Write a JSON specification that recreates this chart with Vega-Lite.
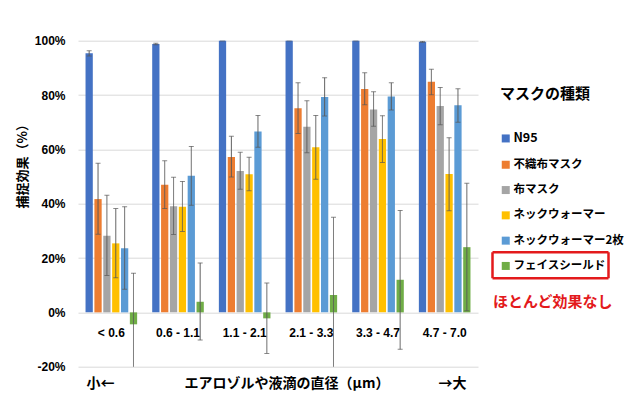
{
  "$schema": "https://vega.github.io/schema/vega-lite/v6.json",
  "width": 400,
  "height": 326,
  "autosize": {"type": "none"},
  "padding": {"left": 78, "top": 40.7, "right": 154, "bottom": 34.3},
  "background": "white",
  "config": {"view": {"stroke": null}, "font": "Noto Sans CJK JP"},
  "data": {
    "values": [
      {"g": "< 0.6", "m": "N95", "v": 95.4, "lo": 94.4, "hi": 96.3},
      {"g": "< 0.6", "m": "不織布マスク", "v": 41.7, "lo": 28.8, "hi": 54.9},
      {"g": "< 0.6", "m": "布マスク", "v": 28.2, "lo": 13.6, "hi": 43.1},
      {"g": "< 0.6", "m": "ネックウォーマー", "v": 25.4, "lo": 12.7, "hi": 38.2},
      {"g": "< 0.6", "m": "ネックウォーマー2枚", "v": 23.6, "lo": 8.5, "hi": 38.9},
      {"g": "< 0.6", "m": "フェイスシールド", "v": -4.4, "lo": -23.2, "hi": 14.4},
      {"g": "0.6 - 1.1", "m": "N95", "v": 98.8, "lo": 98.5, "hi": 99.1},
      {"g": "0.6 - 1.1", "m": "不織布マスク", "v": 47.0, "lo": 38.2, "hi": 55.8},
      {"g": "0.6 - 1.1", "m": "布マスク", "v": 39.1, "lo": 28.7, "hi": 49.7},
      {"g": "0.6 - 1.1", "m": "ネックウォーマー", "v": 38.9, "lo": 29.8, "hi": 48.2},
      {"g": "0.6 - 1.1", "m": "ネックウォーマー2枚", "v": 50.3, "lo": 39.4, "hi": 61.1},
      {"g": "0.6 - 1.1", "m": "フェイスシールド", "v": 3.9, "lo": -10.2, "hi": 18.2},
      {"g": "1.1 - 2.1", "m": "N95", "v": 100, "lo": 100, "hi": 100},
      {"g": "1.1 - 2.1", "m": "不織布マスク", "v": 57.2, "lo": 49.8, "hi": 64.8},
      {"g": "1.1 - 2.1", "m": "布マスク", "v": 52.0, "lo": 45.3, "hi": 58.9},
      {"g": "1.1 - 2.1", "m": "ネックウォーマー", "v": 50.8, "lo": 44.8, "hi": 57.1},
      {"g": "1.1 - 2.1", "m": "ネックウォーマー2枚", "v": 66.6, "lo": 60.8, "hi": 72.5},
      {"g": "1.1 - 2.1", "m": "フェイスシールド", "v": -2.2, "lo": -15.1, "hi": 10.8},
      {"g": "2.1 - 3.3", "m": "N95", "v": 100, "lo": 100, "hi": 100},
      {"g": "2.1 - 3.3", "m": "不織布マスク", "v": 75.1, "lo": 65.8, "hi": 84.5},
      {"g": "2.1 - 3.3", "m": "布マスク", "v": 68.3, "lo": 58.8, "hi": 77.9},
      {"g": "2.1 - 3.3", "m": "ネックウォーマー", "v": 60.8, "lo": 49.0, "hi": 72.5},
      {"g": "2.1 - 3.3", "m": "ネックウォーマー2枚", "v": 79.3, "lo": 72.3, "hi": 86.4},
      {"g": "2.1 - 3.3", "m": "フェイスシールド", "v": 6.4, "lo": -22.2, "hi": 35.0},
      {"g": "3.3 - 4.7", "m": "N95", "v": 100, "lo": 100, "hi": 100},
      {"g": "3.3 - 4.7", "m": "不織布マスク", "v": 82.2, "lo": 76.4, "hi": 88.2},
      {"g": "3.3 - 4.7", "m": "布マスク", "v": 74.7, "lo": 68.5, "hi": 81.2},
      {"g": "3.3 - 4.7", "m": "ネックウォーマー", "v": 63.8, "lo": 55.2, "hi": 72.4},
      {"g": "3.3 - 4.7", "m": "ネックウォーマー2枚", "v": 79.5, "lo": 74.5, "hi": 84.5},
      {"g": "3.3 - 4.7", "m": "フェイスシールド", "v": 12.0, "lo": -13.6, "hi": 37.5},
      {"g": "4.7 - 7.0", "m": "N95", "v": 99.6, "lo": 99.4, "hi": 99.8},
      {"g": "4.7 - 7.0", "m": "不織布マスク", "v": 84.9, "lo": 80.1, "hi": 89.5},
      {"g": "4.7 - 7.0", "m": "布マスク", "v": 76.0, "lo": 69.1, "hi": 82.8},
      {"g": "4.7 - 7.0", "m": "ネックウォーマー", "v": 50.9, "lo": 37.4, "hi": 64.3},
      {"g": "4.7 - 7.0", "m": "ネックウォーマー2枚", "v": 76.2, "lo": 70.0, "hi": 82.3},
      {"g": "4.7 - 7.0", "m": "フェイスシールド", "v": 24.0, "lo": 0.6, "hi": 47.5}
    ]
  },
  "encoding": {
    "x": {
      "field": "g",
      "type": "nominal",
      "sort": ["< 0.6", "0.6 - 1.1", "1.1 - 2.1", "2.1 - 3.3", "3.3 - 4.7", "4.7 - 7.0"],
      "scale": {"paddingInner": 0.226, "paddingOuter": 0.113},
      "axis": {
        "title": "小←　　　　　エアロゾルや液滴の直径（μm）　　　　→大",
        "offset": -54.33,
        "domain": false,
        "ticks": false,
        "grid": false,
        "labelAngle": 0,
        "labelPadding": 15,
        "labelFont": "Liberation Sans",
        "labelFontSize": 12,
        "labelFontWeight": "bold",
        "labelColor": "#000000",
        "titleFontSize": 14,
        "titleFontWeight": "bold",
        "titleColor": "#000000",
        "titleX": 198,
        "titleY": 71,
        "titleBaseline": "middle"
      }
    },
    "xOffset": {
      "field": "m",
      "type": "nominal",
      "sort": ["N95", "不織布マスク", "布マスク", "ネックウォーマー", "ネックウォーマー2枚", "フェイスシールド"],
      "scale": {"paddingInner": 0.18, "paddingOuter": 0}
    }
  },
  "layer": [
    {
      "mark": {"type": "bar"},
      "encoding": {
        "y": {
          "field": "v",
          "type": "quantitative",
          "title": "捕捉効果（%）",
          "scale": {"domain": [-20, 100], "nice": false},
          "axis": {
            "values": [-20, 0, 20, 40, 60, 80, 100],
            "labelExpr": "datum.value + '%'",
            "grid": true,
            "gridColor": "#D9D9D9",
            "domain": false,
            "ticks": false,
            "labelPadding": 13,
            "labelFont": "Liberation Sans",
            "labelFontSize": 12,
            "labelFontWeight": "bold",
            "labelColor": "#000000",
            "titleFontSize": 13,
            "titleFontWeight": "bold",
            "titleColor": "#000000",
            "titleX": -56,
            "titleY": 122,
            "titleAngle": -90,
            "titleAlign": "center",
            "titleBaseline": "middle"
          }
        },
        "color": {
          "field": "m",
          "type": "nominal",
          "scale": {
            "domain": ["N95", "不織布マスク", "布マスク", "ネックウォーマー", "ネックウォーマー2枚", "フェイスシールド"],
            "range": ["#4472C4", "#ED7D31", "#A5A5A5", "#FFC000", "#5B9BD5", "#70AD47"]
          },
          "legend": {
            "orient": "none",
            "legendX": 422,
            "legendY": 46,
            "direction": "vertical",
            "columns": 1,
            "padding": 0,
            "title": "マスクの種類",
            "titleFontSize": 15,
            "titleFontWeight": "bold",
            "titleColor": "#000000",
            "titlePadding": 31,
            "symbolType": "square",
            "symbolSize": 64,
            "symbolStrokeWidth": 0,
            "labelFontSize": 11.5,
            "labelFontWeight": "bold",
            "labelColor": "#000000",
            "labelOffset": 2,
            "labelLimit": 250,
            "rowPadding": 12.3,
            "encode": {
              "labels": {
                "update": {
                  "fontSize": {"signal": "datum.value === 'N95' ? 12.5 : 11.5"}
                }
              }
            }
          }
        }
      }
    },
    {
      "mark": {"type": "rule", "clip": true, "color": "#595959", "strokeWidth": 1},
      "encoding": {
        "y": {"field": "lo", "type": "quantitative", "title": "捕捉効果（%）", "scale": {"domain": [-20, 100], "nice": false}},
        "y2": {"field": "hi"},
        "strokeDash": {
          "datum": "ほとんど効果なし",
          "legend": {
            "orient": "none",
            "legendX": 415,
            "legendY": 219,
            "padding": 0,
            "title": "ほとんど効果なし",
            "titleOrient": "bottom",
            "titleAnchor": "start",
            "titleColor": "#E31A1C",
            "titleFontSize": 15,
            "titleFontWeight": "bold",
            "titlePadding": 11,
            "titleLimit": 300,
            "labelExpr": "''",
            "symbolType": "M-1.5,-3.25H27.5V3.25H-1.5Z",
            "symbolSize": 64,
            "symbolStrokeColor": "#E31A1C",
            "symbolStrokeWidth": 2.5,
            "symbolFillColor": "transparent"
          }
        }
      }
    },
    {
      "mark": {"type": "tick", "clip": true, "color": "#595959", "thickness": 1, "size": 5, "orient": "horizontal"},
      "encoding": {
        "y": {"field": "lo", "type": "quantitative", "title": "捕捉効果（%）", "scale": {"domain": [-20, 100], "nice": false}}
      }
    },
    {
      "mark": {"type": "tick", "clip": true, "color": "#595959", "thickness": 1, "size": 5, "orient": "horizontal"},
      "encoding": {
        "y": {"field": "hi", "type": "quantitative", "title": "捕捉効果（%）", "scale": {"domain": [-20, 100], "nice": false}}
      }
    }
  ]
}
